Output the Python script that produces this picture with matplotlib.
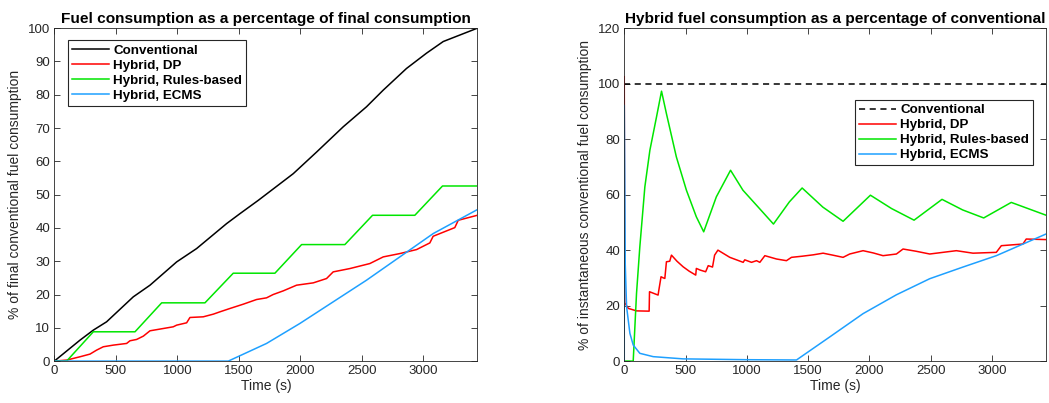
import matplotlib
matplotlib.use("Agg")
import matplotlib.pyplot as plt

plt.rcParams["font.family"] = ["Liberation Sans", "DejaVu Sans"]

t_end = 3440

# cumulative fuel use, % of final conventional consumption
conv_t = [0, 209, 317, 425, 642, 778, 995, 1157, 1401, 1510, 1659, 1943, 2133, 2350,
          2539, 2675, 2864, 3027, 3163, 3440]
conv_v = [0, 6.3, 9.3, 11.8, 19.3, 22.8, 29.8, 33.8, 41.3, 44.3, 48.3, 56.3, 62.8,
          70.4, 76.4, 81.4, 87.9, 92.5, 96.0, 100.0]

dp_t = [0, 100, 209, 290, 344, 398, 480, 588, 615, 669, 724, 778, 967, 995, 1076, 1103,
        1211, 1293, 1347, 1428, 1537, 1645, 1726, 1780, 1862, 1970, 2106, 2214, 2268,
        2404, 2566, 2675, 2810, 2946, 3054, 3081, 3257, 3285, 3440]
dp_v = [0, 0.3, 1.3, 2.1, 3.3, 4.3, 4.8, 5.3, 6.1, 6.5, 7.5, 9.1, 10.3, 10.8, 11.5,
        13.1, 13.3, 14.1, 14.8, 15.8, 17.1, 18.5, 19.0, 20.0, 21.1, 22.8, 23.5, 24.8,
        26.8, 27.8, 29.3, 31.3, 32.3, 33.5, 35.5, 37.5, 40.1, 42.3, 43.8]

rb_t = [0, 100, 317, 656, 873, 1225, 1455, 1794, 2011, 2363, 2588, 2932, 3157, 3440]
rb_v = [0, 0, 8.8, 8.8, 17.5, 17.5, 26.4, 26.4, 35.0, 35.0, 43.8, 43.8, 52.6, 52.6]

ecms_t = [0, 1415, 1726, 1997, 2268, 2539, 2810, 3081, 3440]
ecms_v = [0, 0, 5.3, 11.3, 17.8, 24.3, 31.3, 38.3, 45.5]

# instantaneous ratio, % of conventional
iconv_t = [0, t_end]
iconv_v = [100, 100]

idp_t = [0, 4, 33, 100, 203, 206, 276, 280, 300, 318, 331, 344, 371, 385, 430, 480,
         530, 583, 588, 620, 664, 685, 720, 737, 764, 861, 970, 983, 1038, 1079, 1106,
         1147, 1242, 1323, 1364, 1450, 1541, 1622, 1700, 1785, 1839, 1948, 2030, 2111,
         2220, 2274, 2380, 2492, 2600, 2709, 2845, 3035, 3076, 3252, 3279, 3440]
idp_v = [102.5, 21, 19, 18.1, 18, 25, 23.8, 25, 30.4, 30, 29.8, 35.8, 36, 38.2, 36,
         34, 32.4, 31, 33.4, 32.8, 32.2, 34.4, 33.9, 38.2, 40, 37.4, 35.6, 36.5, 35.6,
         36.2, 35.6, 38, 36.8, 36.2, 37.4, 37.8, 38.3, 38.9, 38.2, 37.4, 38.6, 39.8,
         39, 38, 38.6, 40.4, 39.6, 38.6, 39.2, 39.8, 38.9, 39.2, 41.6, 42.2, 44, 43.8]

irb_t = [0, 73, 100, 127, 168, 209, 263, 304, 344, 425, 507, 588, 648, 751, 867, 968,
         1103, 1217, 1347, 1451, 1620, 1785, 2008, 2180, 2364, 2592, 2760, 2932, 3157,
         3440]
irb_v = [0, 0, 24.4, 41.2, 62.8, 76, 88, 97.3, 89.2, 73.6, 61.6, 52, 46.6, 59.2, 68.8,
         61.6, 55, 49.4, 57.4, 62.4, 55.5, 50.4, 59.8, 55, 50.8, 58.3, 54.5, 51.6, 57.2,
         52.6]

iecms_t = [0, 0, 8, 19, 46, 73, 127, 236, 480, 1000, 1405, 1676, 1948, 2220, 2492,
           2763, 3035, 3440]
iecms_v = [0, 92.2, 35, 19.6, 10, 5.8, 2.8, 1.6, 0.8, 0.5, 0.4, 8.7, 17.1, 23.9, 29.7,
           33.9, 38, 45.8]

labels = ["Conventional", "Hybrid, DP", "Hybrid, Rules-based", "Hybrid, ECMS"]
c_dp = "#ff0000"
c_rb = "#00e600"
c_ecms = "#1ea0ff"
gray = "#262626"

fig = plt.figure(figsize=(10.49, 4.03), dpi=100)
ax1 = fig.add_axes([0.0518, 0.104, 0.4032, 0.826])
ax2 = fig.add_axes([0.5951, 0.104, 0.4020, 0.826])

lw = 1.1
ax1.plot(conv_t, conv_v, color="black", lw=lw, label=labels[0])
ax1.plot(dp_t, dp_v, color=c_dp, lw=lw, label=labels[1])
ax1.plot(rb_t, rb_v, color=c_rb, lw=lw, label=labels[2])
ax1.plot(ecms_t, ecms_v, color=c_ecms, lw=lw, label=labels[3])

ax2.plot(iconv_t, iconv_v, color="black", lw=lw, ls=(0, (4, 3)), label=labels[0])
ax2.plot(idp_t, idp_v, color=c_dp, lw=lw, label=labels[1])
ax2.plot(irb_t, irb_v, color=c_rb, lw=lw, label=labels[2])
ax2.plot(iecms_t, iecms_v, color=c_ecms, lw=lw, label=labels[3])

ax1.set_ylim(0, 100)
ax1.set_yticks(range(0, 101, 10))
ax2.set_ylim(0, 120)
ax2.set_yticks(range(0, 121, 20))

for ax in (ax1, ax2):
    ax.set_xlim(0, t_end)
    ax.set_xticks(range(0, 3001, 500))
    ax.tick_params(direction="in", top=True, right=True, length=4, width=0.6,
                   colors=gray, labelsize=9.5, pad=3)
    for s in ax.spines.values():
        s.set_color(gray)
        s.set_linewidth(0.6)
    ax.set_xlabel("Time (s)", fontsize=10, color=gray, labelpad=1)

ax1.set_ylabel("% of final conventional fuel consumption", fontsize=10, color=gray)
ax2.set_ylabel("% of instantaneous conventional fuel consumption", fontsize=10,
               color=gray)
ax1.set_title("Fuel consumption as a percentage of final consumption",
              fontsize=11.1, fontweight="bold", pad=4)
ax2.set_title("Hybrid fuel consumption as a percentage of conventional",
              fontsize=11.1, fontweight="bold", pad=4)

leg_kw = dict(prop={"weight": "bold", "size": 9.6}, fancybox=False,
              edgecolor=gray, framealpha=1, handlelength=2.8, handletextpad=0.3,
              borderpad=0.3, labelspacing=0.2, borderaxespad=0)
l1 = ax1.legend(loc="upper left", bbox_to_anchor=(0.032, 0.964), **leg_kw)
l2 = ax2.legend(loc="upper right", bbox_to_anchor=(0.969, 0.784), **leg_kw)
for leg in (l1, l2):
    leg.get_frame().set_linewidth(0.8)

fig.savefig("out.png", dpi=100)
